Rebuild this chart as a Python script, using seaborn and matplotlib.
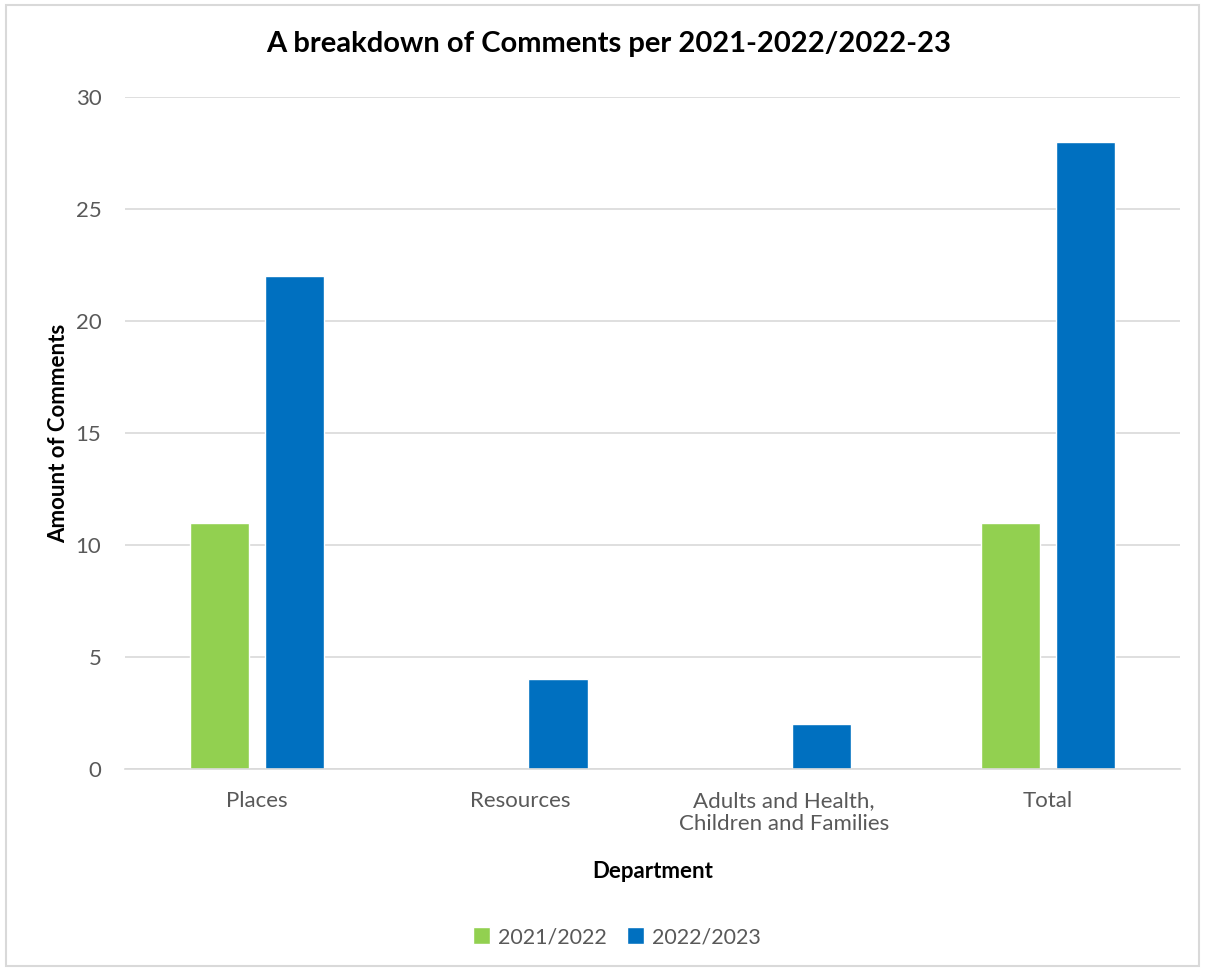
import matplotlib

matplotlib.use("Agg")

import matplotlib.pyplot as plt
import pandas as pd
import seaborn as sns
from matplotlib.patches import Rectangle

departments = ["Places", "Resources", "Adults and Health,\nChildren and Families", "Total"]
years = ["2021/2022", "2022/2023"]
comments_2122 = [11, 0, 0, 11]
comments_2223 = [22, 4, 2, 28]
y_ticks = [0, 5, 10, 15, 20, 25, 30]

df = pd.DataFrame({
    "department": departments * 2,
    "year": [years[0]] * 4 + [years[1]] * 4,
    "comments": comments_2122 + comments_2223,
})

sns.set_theme(style="white")
plt.rcParams["font.family"] = ["Lato", "DejaVu Sans"]

fig = plt.figure(figsize=(12.05, 9.69), dpi=100)
ax = fig.add_axes([0.1037, 0.2064, 0.8753, 0.6935])

sns.barplot(
    data=df, x="department", y="comments", hue="year",
    palette=["#92D050", "#0070C0"], width=0.569, gap=0.213,
    saturation=1, ax=ax, legend=True,
)

ax.set_ylim(0, 30)
ax.set_yticks(y_ticks)
ax.set_xlim(-0.5, 3.5)
ax.yaxis.grid(True, color="#D9D9D9", linewidth=1.2)
ax.set_axisbelow(True)
for side in ["top", "right", "left"]:
    ax.spines[side].set_visible(False)
ax.spines["bottom"].set_color("#D9D9D9")
ax.spines["bottom"].set_linewidth(1.2)
ax.tick_params(axis="both", length=0, labelsize=16, labelcolor="#595959")
ax.tick_params(axis="x", pad=16)
ax.tick_params(axis="y", pad=17)

ax.set_xlabel("Department", fontsize=16, fontweight="bold", color="black", labelpad=19)
ax.set_ylabel("Amount of Comments", fontsize=16, fontweight="bold", color="black", labelpad=5)
fig.suptitle("A breakdown of Comments per 2021-2022/2022-23", x=0.505, y=0.968,
             fontsize=21, fontweight="bold", color="black")

ax.legend(loc="center", bbox_to_anchor=(0.512, 0.033), bbox_transform=fig.transFigure,
          ncol=2, frameon=False, fontsize=15.5, labelcolor="#595959",
          handlelength=0.8, handleheight=0.8, columnspacing=0.9, handletextpad=0.4)

fig.patches.append(Rectangle((0.005, 0.003), 0.99, 0.992, transform=fig.transFigure,
                             fill=False, edgecolor="#D9D9D9", linewidth=1.5))

fig.savefig("out.png", dpi=100)
